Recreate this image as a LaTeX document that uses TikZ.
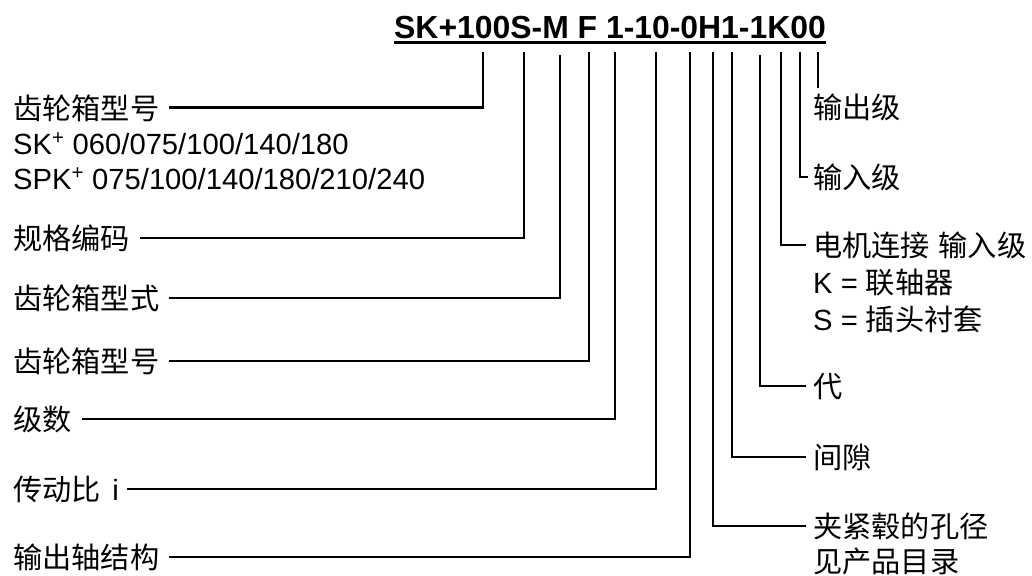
\documentclass[tikz,border=0pt]{standalone}
\usepackage{fontspec}
\setmainfont{Liberation Sans}
\newfontfamily\cjk{Noto Sans CJK SC}
\begin{document}
\begin{tikzpicture}[x=1pt,y=-1pt,
  lbl/.style={anchor=base west, inner sep=0pt, font=\fontsize{29.2}{35}\selectfont, text height=26pt, text depth=3.5pt},
  conn/.style={line width=2.5pt},
  titlestyle/.style={anchor=base west, inner sep=0pt, font=\fontsize{31.9}{36}\selectfont\bfseries}]
\useasboundingbox (0,0) rectangle (1032,575);
% title
\node[titlestyle] (title) at (394,39) {SK+100S-M F 1-10-0H1-1K00};
\draw[line width=3pt] ([yshift=-4pt]title.base west) -- ([yshift=-4pt]title.base east);
% left labels
\node[lbl] (g1) at (13,119) {\cjk 齿轮箱型号};
\node[lbl] (sk) at (13,154) {SK\textsuperscript{+} 060/075/100/140/180};
\node[lbl] (spk) at (13,189) {SPK\textsuperscript{+} 075/100/140/180/210/240};
\node[lbl] (gg) at (13,249) {\cjk 规格编码};
\node[lbl] (gs) at (13,309) {\cjk 齿轮箱型式};
\node[lbl] (g2) at (13,372) {\cjk 齿轮箱型号};
\node[lbl] (js) at (13,430) {\cjk 级数};
\node[lbl] (cd) at (13,500) {{\cjk 传动比}\hspace{0.4em}i};
\node[lbl] (sc) at (13,568) {\cjk 输出轴结构};
% right labels
\node[lbl] (o1) at (813,118) {\cjk 输出级};
\node[lbl] (i1) at (813,188) {\cjk 输入级};
\node[lbl] (dj) at (813,256) {{\cjk 电机连接}\hspace{0.3em}{\cjk 输入级}};
\node[lbl] (kk) at (813,293) {K = {\cjk 联轴器}};
\node[lbl] (ss) at (813,330) {S = {\cjk 插头衬套}};
\node[lbl] (dai) at (813,397) {\cjk 代};
\node[lbl] (jx) at (813,468) {\cjk 间隙};
\node[lbl] (jj) at (813,537) {\cjk 夹紧毂的孔径};
\node[lbl] (jc) at (813,572) {\cjk 见产品目录};
% tops of the leader lines
\coordinate (t1) at (483,52);
\coordinate (t2) at (524,52);
\coordinate (t3) at (560,55);
\coordinate (t4) at (589,52);
\coordinate (t5) at (615,52);
\coordinate (t6) at (656,52);
\coordinate (t7) at (690,52);
\coordinate (t8) at (713,52);
\coordinate (t9) at (732,52);
\coordinate (t10) at (760,55);
\coordinate (t11) at (781,52);
\coordinate (t12) at (800,52);
\coordinate (t13) at (818,52);
\coordinate (b13) at (818,88);
% connectors
\draw[conn] (t1) |- ([xshift=10pt]g1.east);
\draw[conn] (t2) |- ([xshift=10pt]gg.east);
\draw[conn] (t3) |- ([xshift=10pt]gs.east);
\draw[conn] (t4) |- ([xshift=10pt]g2.east);
\draw[conn] (t5) |- ([xshift=10pt]js.east);
\draw[conn] (t6) |- ([xshift=8pt]cd.east);
\draw[conn] (t7) |- ([xshift=10pt]sc.east);
\draw[conn] (t8) |- ([xshift=-7pt]jj.west);
\draw[conn] (t9) |- ([xshift=-7pt]jx.west);
\draw[conn] (t10) |- ([xshift=-7pt]dai.west);
\draw[conn] (t11) |- ([xshift=-7pt]dj.west);
\draw[conn] (t12) |- ([xshift=-5pt]i1.west);
\draw[conn] (t13) -- (b13);
\end{tikzpicture}
\end{document}
